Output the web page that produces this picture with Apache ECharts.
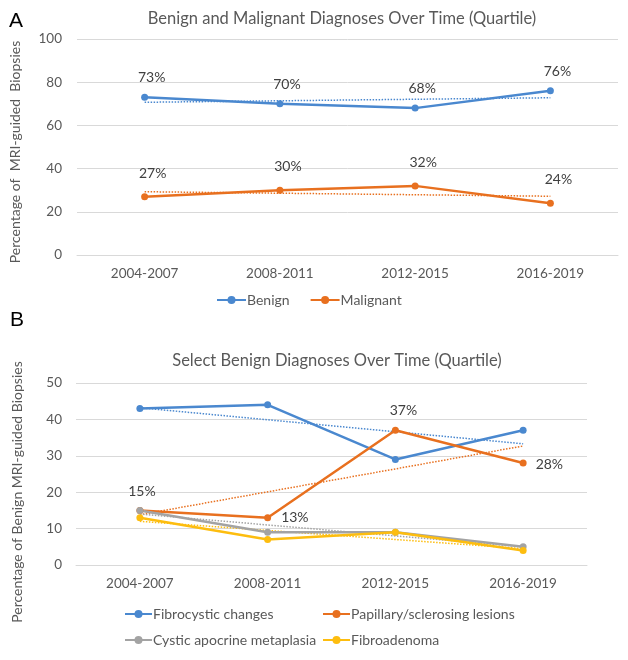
<!DOCTYPE html>
<html>
<head>
<meta charset="utf-8">
<script src="https://cdn.jsdelivr.net/npm/echarts@6/dist/echarts.min.js"></script>
<style>
html,body{margin:0;padding:0;background:#fff;}
#main{width:628px;height:660px;}
</style>
</head>
<body>
<div id="main"></div>
<script>
// ---- Data ----
var categories = ['2004-2007', '2008-2011', '2012-2015', '2016-2019'];
// Panel A
var benign = [73, 70, 68, 76];
var malignant = [27, 30, 32, 24];
var benignTrend = [70.7, null, null, 72.8];
var malignantTrend = [29.3, null, null, 27.2];
var yTicksA = [0, 20, 40, 60, 80, 100];
// Panel B
var fibrocystic = [43, 44, 29, 37];
var papillary = [15, 13, 37, 28];
var cysticApocrine = [15, 9, 9, 5];
var fibroadenoma = [13, 7, 9, 4];
var fibrocysticTrend = [43.2, null, null, 33.3];
var papillaryTrend = [13.8, null, null, 32.7];
var cysticTrend = [14.0, null, null, 5.0];
var fibroadenomaTrend = [12.0, null, null, 4.5];
var yTicksB = [0, 10, 20, 30, 40, 50];

// ---- Styles ----
var FONT = 'Lato';
var TXT = '#595959';
var C_BLUE = '#4a88cf';
var C_ORANGE = '#e8701f';
var C_GRAY = '#a3a3a3';
var C_YELLOW = '#fdbd0f';

function pct(p) { return p.value + '%'; }

var labelStyle = { fontFamily: FONT, fontSize: 14, color: '#404040' };
// per-point label placement for Papillary series (panel B)
var papillaryLabelPos = ['top', 'right', 'top', 'right'];
var papillaryLabelDist = [8, 10, 9, 9];
var papillaryLabelOffset = [[2, 0], [0, 0], [8, 0], [0, 1]];
var papillaryData = papillary.map(function (v, i) {
  return {
    value: v,
    label: Object.assign({
      show: true,
      position: papillaryLabelPos[i],
      distance: papillaryLabelDist[i],
      offset: papillaryLabelOffset[i],
      formatter: pct
    }, labelStyle)
  };
});

function lineSeries(name, data, color, xi, extra) {
  var s = {
    name: name,
    type: 'line',
    xAxisIndex: xi,
    yAxisIndex: xi,
    data: data,
    symbol: 'circle',
    symbolSize: 7,
    lineStyle: { color: color, width: 2.5 },
    itemStyle: { color: color },
    z: 3
  };
  if (extra) for (var k in extra) s[k] = extra[k];
  return s;
}
function trendSeries(name, data, color, xi) {
  return {
    name: name,
    type: 'line',
    xAxisIndex: xi,
    yAxisIndex: xi,
    data: data,
    connectNulls: true,
    symbol: 'none',
    silent: true,
    lineStyle: { color: color, width: 1.5, type: [1.5, 1.5] },
    z: 2
  };
}

var legendText = { fontFamily: FONT, fontSize: 14, color: TXT, padding: [0, 0, 0, -4] };
var axisLabelStyle = { fontFamily: FONT, fontSize: 13.5, color: TXT };

var chart = echarts.init(document.getElementById('main'), null, { renderer: 'canvas' });
var option = {
  backgroundColor: '#ffffff',
  animation: false,
  textStyle: { fontFamily: FONT },
  title: [
    { text: 'Benign and Malignant Diagnoses Over Time (Quartile)', left: 337, top: 5, textAlign: 'center',
      textStyle: { fontFamily: FONT, fontSize: 16.5, fontWeight: 'normal', color: TXT } },
    { text: 'Select Benign Diagnoses Over Time (Quartile)', left: 332, top: 347, textAlign: 'center',
      textStyle: { fontFamily: FONT, fontSize: 16.5, fontWeight: 'normal', color: TXT } },
    { text: 'A', left: 9, top: 11, padding: 0, textStyle: { fontFamily: 'Liberation Sans', fontSize: 21, fontWeight: 'normal', color: '#000' } },
    { text: 'B', left: 10, top: 310, padding: 0, textStyle: { fontFamily: 'Liberation Sans', fontSize: 21, fontWeight: 'normal', color: '#000' } }
  ],
  legend: [
    { data: ['Benign', 'Malignant'], left: 216, top: 293, padding: 0, itemWidth: 29, itemHeight: 10, itemGap: 20,
      textStyle: legendText },
    { data: ['Fibrocystic changes', 'Cystic apocrine metaplasia'], orient: 'vertical', left: 124, top: 607, padding: 0,
      itemWidth: 27, itemHeight: 10, itemGap: 12, textStyle: legendText },
    { data: ['Papillary/sclerosing lesions', 'Fibroadenoma'], orient: 'vertical', left: 322, top: 607, padding: 0,
      itemWidth: 27, itemHeight: 10, itemGap: 12, textStyle: legendText }
  ],
  grid: [
    { left: 74, right: 10, top: 39, height: 216 },
    { left: 76, right: 41, top: 383, height: 182 }
  ],
  xAxis: [
    { type: 'category', gridIndex: 0, data: categories, boundaryGap: true,
      axisLine: { lineStyle: { color: '#d9d9d9', width: 1 } },
      axisTick: { show: false },
      axisLabel: Object.assign({ margin: 12 }, axisLabelStyle) },
    { type: 'category', gridIndex: 1, data: categories, boundaryGap: true,
      axisLine: { lineStyle: { color: '#d9d9d9', width: 1 } },
      axisTick: { show: false },
      axisLabel: Object.assign({ margin: 12 }, axisLabelStyle) }
  ],
  yAxis: [
    { type: 'value', gridIndex: 0, min: yTicksA[0], max: yTicksA[yTicksA.length - 1], interval: yTicksA[1] - yTicksA[0],
      name: 'Percentage of  MRI-guided  Biopsies', nameLocation: 'middle', nameGap: 55,
      nameTextStyle: { fontFamily: FONT, fontSize: 14, color: TXT, padding: [0, 10, 0, 0] },
      axisLine: { show: false }, axisTick: { show: false },
      splitLine: { lineStyle: { color: '#d9d9d9', width: 1 } },
      axisLabel: Object.assign({ margin: 15 }, axisLabelStyle) },
    { type: 'value', gridIndex: 1, min: yTicksB[0], max: yTicksB[yTicksB.length - 1], interval: yTicksB[1] - yTicksB[0],
      name: 'Percentage of Benign MRI-guided Biopsies', nameLocation: 'middle', nameGap: 52,
      nameTextStyle: { fontFamily: FONT, fontSize: 14, color: TXT, padding: [0, 36, 0, 0] },
      axisLine: { show: false }, axisTick: { show: false },
      splitLine: { lineStyle: { color: '#d9d9d9', width: 1 } },
      axisLabel: Object.assign({ margin: 14 }, axisLabelStyle) }
  ],
  series: [
    trendSeries('trendBenign', benignTrend, C_BLUE, 0),
    trendSeries('trendMalignant', malignantTrend, C_ORANGE, 0),
    lineSeries('Benign', benign, C_BLUE, 0, {
      label: Object.assign({ show: true, position: 'top', distance: 9, offset: [7, 0], formatter: pct }, labelStyle)
    }),
    lineSeries('Malignant', malignant, C_ORANGE, 0, {
      label: Object.assign({ show: true, position: 'top', distance: 13, offset: [8, 0], formatter: pct }, labelStyle)
    }),
    trendSeries('trendFibrocystic', fibrocysticTrend, C_BLUE, 1),
    trendSeries('trendPapillary', papillaryTrend, C_ORANGE, 1),
    trendSeries('trendCystic', cysticTrend, C_GRAY, 1),
    trendSeries('trendFibroadenoma', fibroadenomaTrend, C_YELLOW, 1),
    lineSeries('Fibrocystic changes', fibrocystic, C_BLUE, 1),
    lineSeries('Papillary/sclerosing lesions', papillaryData, C_ORANGE, 1),
    lineSeries('Cystic apocrine metaplasia', cysticApocrine, C_GRAY, 1),
    lineSeries('Fibroadenoma', fibroadenoma, C_YELLOW, 1)
  ]
};
chart.setOption(option);
</script>
</body>
</html>
